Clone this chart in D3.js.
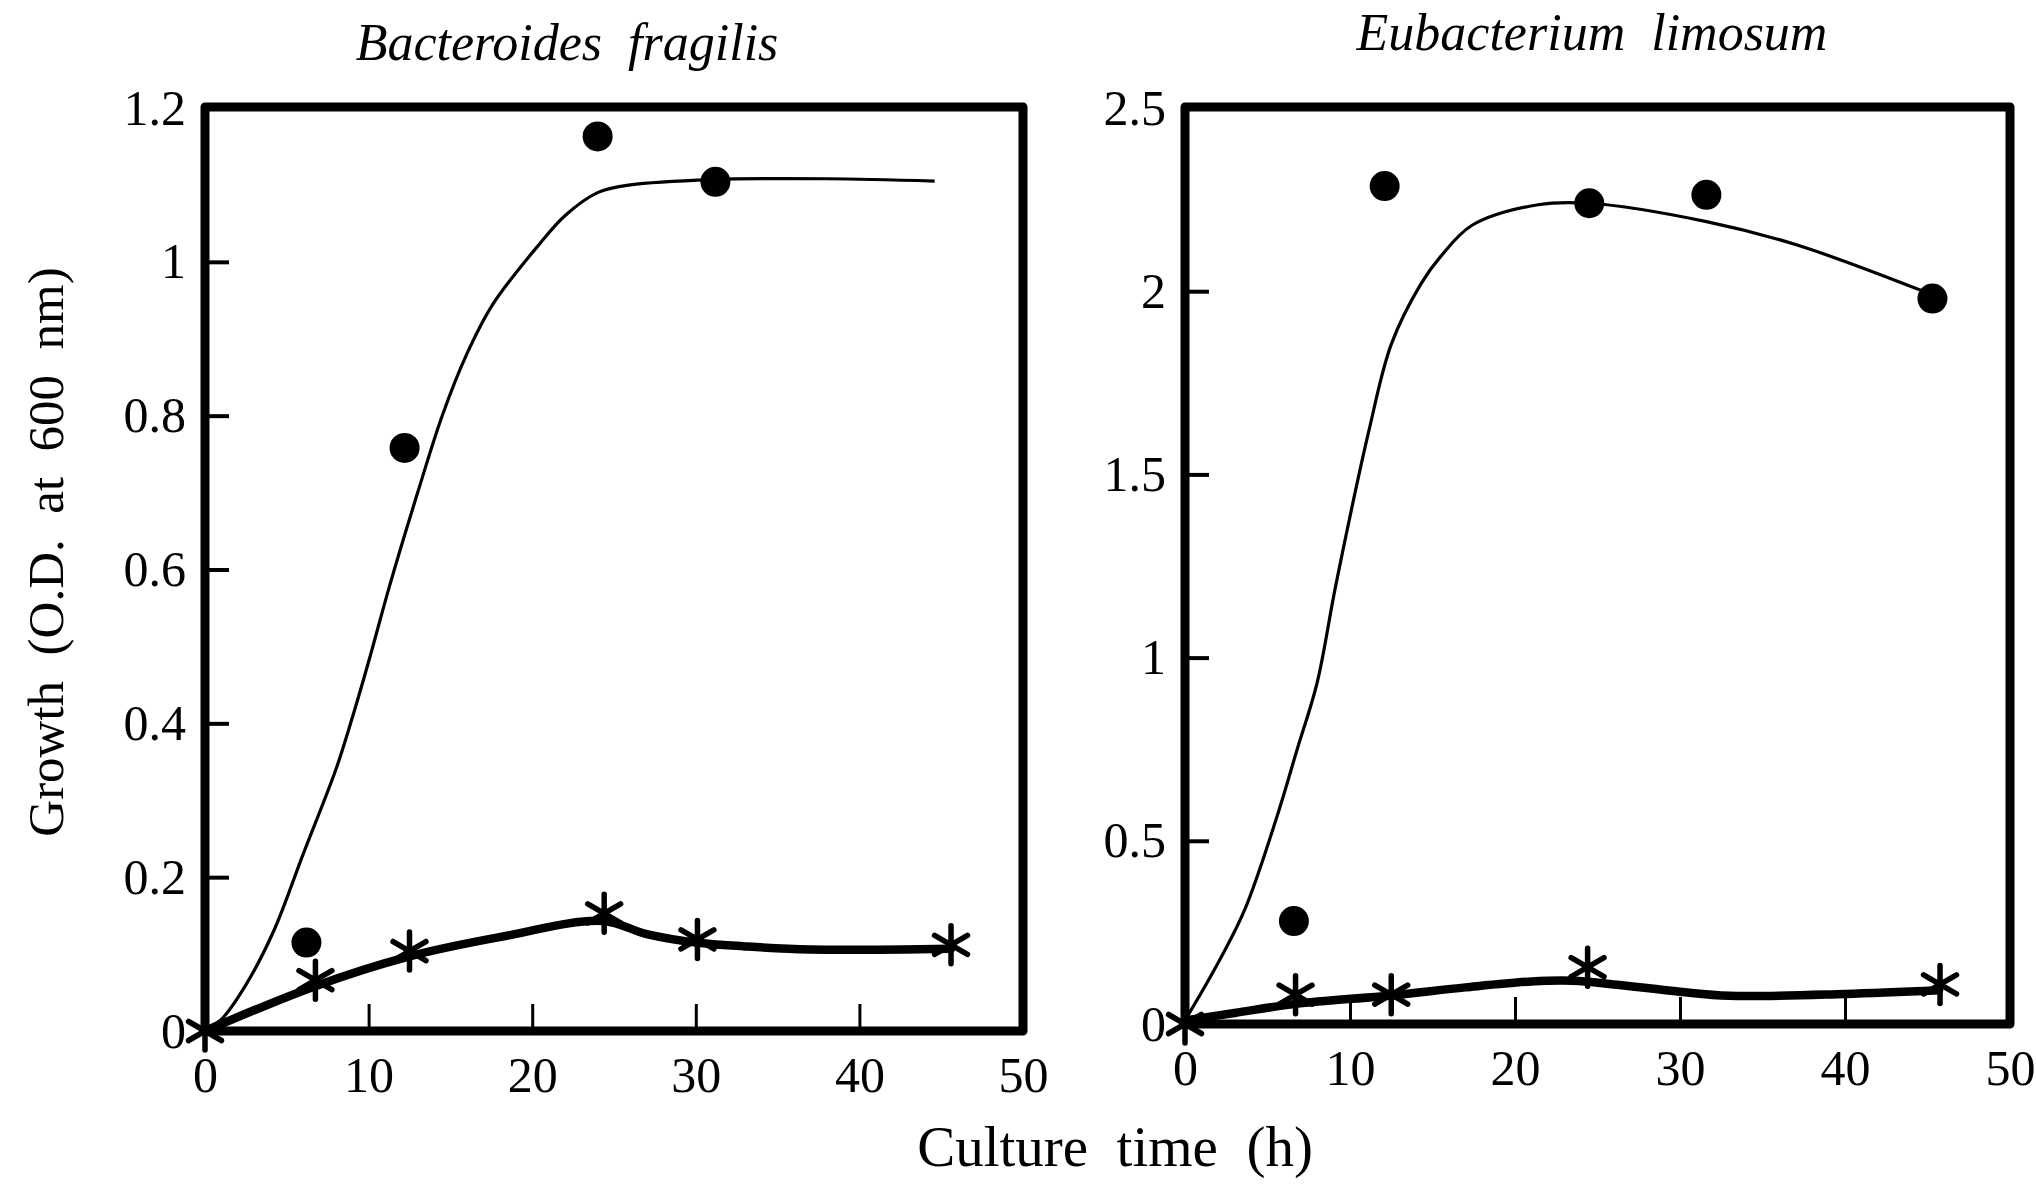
<!DOCTYPE html>
<html>
<head>
<meta charset="utf-8">
<script src="https://cdn.jsdelivr.net/npm/d3@7"></script>
<style>
  html, body { margin: 0; padding: 0; background: #fff; }
  svg text { font-family: "Liberation Serif", "Times New Roman", serif; fill: #000; white-space: pre; }
</style>
</head>
<body>
<svg id="chart"></svg>
<script>
// tick values / labels
const xTicks = [0, 10, 20, 30, 40, 50];
const xTickLabels = ['0', '10', '20', '30', '40', '50'];
const bfYTicks = [0, 0.2, 0.4, 0.6, 0.8, 1, 1.2];
const bfYTickLabels = ['0', '0.2', '0.4', '0.6', '0.8', '1', '1.2'];
const elYTicks = [0, 0.5, 1, 1.5, 2, 2.5];
const elYTickLabels = ['0', '0.5', '1', '1.5', '2', '2.5'];

// Bacteroides fragilis
const bfDots = [[6.2, 0.115], [12.2, 0.758], [24.0, 1.163], [31.2, 1.104]];
const bfCurve = [[0, 0], [1, 0.015], [2.5, 0.06], [4.2, 0.13], [6, 0.23], [8, 0.34], [8.9, 0.4],
  [10, 0.48], [11.3, 0.58], [13, 0.7], [14.5, 0.8], [16, 0.88], [17.6, 0.945], [20.4, 1.022],
  [22, 1.06], [24, 1.09], [26, 1.1], [31, 1.107], [38, 1.108], [44.6, 1.105]];
const bfStars = [[0, 0], [6.75, 0.066], [12.5, 0.104], [24.4, 0.153], [30.1, 0.119], [45.6, 0.112]];
const bfStarLine = [[0, 0], [6.7, 0.058], [12.5, 0.097], [18, 0.122], [24.3, 0.143], [27, 0.126],
  [30, 0.115], [33, 0.11], [37, 0.106], [45.6, 0.107]];

// Eubacterium limosum
const elDots = [[6.6, 0.281], [12.1, 2.287], [24.5, 2.24], [31.6, 2.263], [45.3, 1.98]];
const elCurve = [[0, 0.01], [1.8, 0.15], [3.6, 0.31], [5.6, 0.57], [6.8, 0.75], [8, 0.93],
  [9.15, 1.2], [11.15, 1.62], [12.5, 1.855], [14.3, 2.02], [15.5, 2.095], [17.4, 2.18],
  [21.4, 2.236], [24.5, 2.24], [31.6, 2.19], [37.1, 2.126], [45.3, 1.99]];
const elStars = [[0, 0], [6.7, 0.08], [12.5, 0.08], [24.4, 0.155], [45.76, 0.108]];
const elStarLine = [[0, 0.01], [3, 0.03], [6.7, 0.055], [12.5, 0.078], [17, 0.1], [21, 0.116],
  [23.5, 0.118], [26, 0.108], [30, 0.088], [33, 0.077], [40, 0.082], [45.7, 0.092]];

const W = 2036, H = 1185;
const svg = d3.select('#chart').attr('width', W).attr('height', H);

const panels = [
  { title: 'Bacteroides  fragilis', titleX: 567, titleY: 60,
    x0: 205, x1: 1023, y0: 1031, y1: 108, yMax: 1.2,
    yTicks: bfYTicks, yLabels: bfYTickLabels,
    dots: bfDots, curve: bfCurve, stars: bfStars, starLine: bfStarLine },
  { title: 'Eubacterium  limosum', titleX: 1592, titleY: 50,
    x0: 1185, x1: 2010, y0: 1024, y1: 108, yMax: 2.5,
    yTicks: elYTicks, yLabels: elYTickLabels,
    dots: elDots, curve: elCurve, stars: elStars, starLine: elStarLine }
];

// six-armed asterisk
function starPath(r) {
  let p = '';
  [90, 30, 150].forEach(a => {
    const t = a * Math.PI / 180, dx = r * Math.cos(t), dy = r * Math.sin(t);
    p += `M${-dx},${-dy}L${dx},${dy}`;
  });
  return p;
}

panels.forEach(p => {
  const x = d3.scaleLinear().domain([0, 50]).range([p.x0, p.x1]);
  const y = d3.scaleLinear().domain([0, p.yMax]).range([p.y0, p.y1]);
  const g = svg.append('g');

  // title
  g.append('text')
    .attr('x', p.titleX).attr('y', p.titleY)
    .attr('text-anchor', 'middle')
    .attr('font-size', 52)
    .attr('font-style', 'italic')
    .text(p.title);

  // y axis ticks (inward)
  const yAxis = d3.axisLeft(y)
    .tickValues(p.yTicks)
    .tickFormat((d, i) => p.yLabels[i])
    .tickSizeInner(-24).tickSizeOuter(0).tickPadding(19);
  const ya = g.append('g').attr('transform', `translate(${p.x0},0)`).call(yAxis);
  ya.select('.domain').remove();
  ya.selectAll('line').attr('stroke', '#000').attr('stroke-width', 4);
  ya.selectAll('text').attr('font-size', 50).attr('font-family', null);

  // x axis ticks (inward)
  const xAxis = d3.axisBottom(x)
    .tickValues(xTicks)
    .tickFormat((d, i) => xTickLabels[i])
    .tickSizeInner(-27).tickSizeOuter(0).tickPadding(25);
  const xa = g.append('g').attr('transform', `translate(0,${p.y0})`).call(xAxis);
  xa.select('.domain').remove();
  xa.selectAll('line').attr('stroke', '#000').attr('stroke-width', 3);
  xa.selectAll('text').attr('font-size', 50).attr('font-family', null);

  // frame
  g.append('rect')
    .attr('x', x(0)).attr('y', y(p.yMax) - 1)
    .attr('width', x(50) - x(0)).attr('height', y(0) - y(p.yMax) + 1)
    .attr('fill', 'none').attr('stroke', '#000').attr('stroke-width', 9)
    .attr('stroke-linejoin', 'round');

  const smooth = d3.line().x(d => x(d[0])).y(d => y(d[1])).curve(d3.curveCatmullRom.alpha(0.5));

  // thin fitted curve
  g.append('path').datum(p.curve)
    .attr('d', smooth)
    .attr('fill', 'none').attr('stroke', '#000').attr('stroke-width', 3.2);

  // thick line for the asterisk series
  g.append('path').datum(p.starLine)
    .attr('d', smooth)
    .attr('fill', 'none').attr('stroke', '#000').attr('stroke-width', 8.5)
    .attr('stroke-linejoin', 'round').attr('stroke-linecap', 'round');

  // filled circles
  g.selectAll('circle.dot').data(p.dots).enter().append('circle')
    .attr('class', 'dot')
    .attr('cx', d => x(d[0])).attr('cy', d => y(d[1]))
    .attr('r', 15).attr('fill', '#000');

  // asterisks
  g.selectAll('path.star').data(p.stars).enter().append('path')
    .attr('class', 'star')
    .attr('transform', d => `translate(${x(d[0])},${y(d[1])})`)
    .attr('d', starPath(19))
    .attr('fill', 'none').attr('stroke', '#000').attr('stroke-width', 5.5)
    .attr('stroke-linecap', 'round');
});

// shared axis titles
svg.append('text')
  .attr('transform', 'translate(46,552) rotate(-90)')
  .attr('text-anchor', 'middle')
  .attr('dominant-baseline', 'central')
  .attr('font-size', 51)
  .text('Growth  (O.D.  at  600  nm)');

svg.append('text')
  .attr('x', 1115).attr('y', 1166)
  .attr('text-anchor', 'middle')
  .attr('font-size', 57)
  .text('Culture  time  (h)');
</script>
</body>
</html>
